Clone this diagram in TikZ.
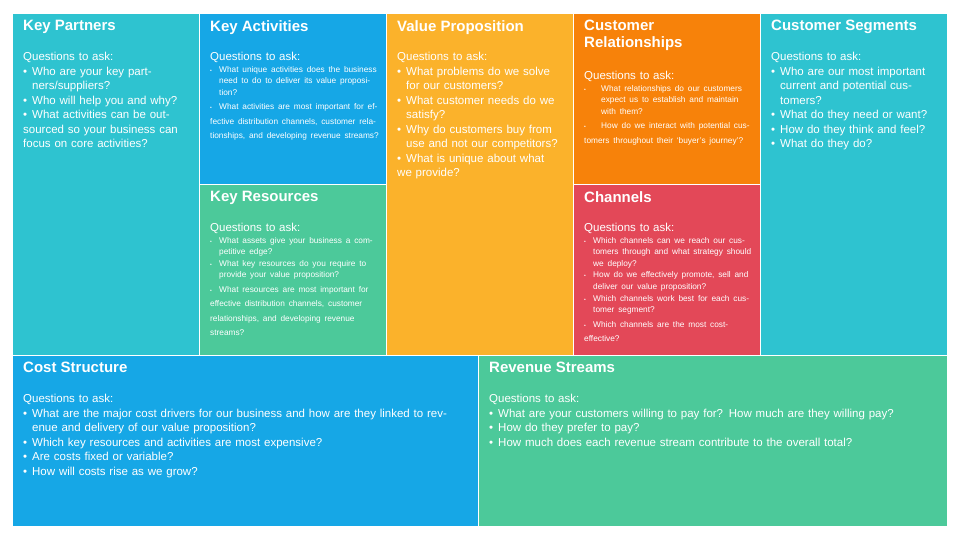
\documentclass[tikz,border=0pt]{standalone}
\usepackage{fontspec}
\setmainfont{Liberation Sans}
\definecolor{cteal}{HTML}{2EC3D0}
\definecolor{cblue}{HTML}{16A7E6}
\definecolor{cgreen}{HTML}{4CC99A}
\definecolor{cyel}{HTML}{FBB22B}
\definecolor{corange}{HTML}{F7820A}
\definecolor{cred}{HTML}{E34858}
\newcommand{\bi}[1]{\par\hangindent=9pt\hangafter=1\noindent\makebox[9pt][l]{•}#1}
\newcommand{\sbi}[1]{\par\hangindent=9pt\hangafter=1\noindent\makebox[9pt][l]{\tiny•}#1}
\newcommand{\smallq}{\fontsize{8.3}{11.6}\selectfont}
\tikzset{
  cell/.style={fill=#1,draw=none},
  ttl/.style={anchor=north west,text=white,font=\fontsize{15}{17}\selectfont\bfseries,align=left,inner sep=0pt},
  body/.style={anchor=north west,text=white,text width=#1,font=\fontsize{11.5}{14.5}\selectfont,align=left,inner sep=0pt},
}
\begin{document}
\begin{tikzpicture}[x=1pt,y=-1pt]
\useasboundingbox (0,0) rectangle (960,540);
\fill[white] (0,0) rectangle (960,540);
\fill[cell=cteal] (13,14) rectangle (199,355);
\fill[cell=cblue] (200,14) rectangle (386,184);
\fill[cell=cgreen] (200,185) rectangle (386,355);
\fill[cell=cyel] (387,14) rectangle (573,355);
\fill[cell=corange] (574,14) rectangle (760,184);
\fill[cell=cred] (574,185) rectangle (760,355);
\fill[cell=cteal] (761,14) rectangle (947,355);
\fill[cell=cblue] (13,356) rectangle (478,526);
\fill[cell=cgreen] (479,356) rectangle (947,526);

\node[ttl] (kpT) at (23,20) {Key Partners};
\node[body=170pt] (kpB) at (23,52) {Questions to ask:
\bi{Who are your key partners/suppliers?}
\bi{Who will help you and why?}
\bi{What activities can be outsourced so your business can focus on core activities?}};

\node[ttl] (kaT) at (210,20) {Key Activities};
\node[body=170pt] (kaB) at (210,52) {Questions to ask:\par{\smallq
\sbi{What unique activities does the business need to do to deliver its value proposition?}
\sbi{What activities are most important for effective distribution channels, customer relationships, and developing revenue streams?}}};

\node[ttl] (krT) at (210,191) {Key Resources};
\node[body=170pt] (krB) at (210,223) {Questions to ask:\par{\smallq
\sbi{What assets give your business a competitive edge?}
\sbi{What key resources do you require to provide your value proposition?}
\sbi{What resources are most important for effective distribution channels, customer relationships, and developing revenue streams?}}};

\node[ttl] (vpT) at (397,20) {Value Proposition};
\node[body=165pt] (vpB) at (397,52) {Questions to ask:
\bi{What problems do we solve for our customers?}
\bi{What customer needs do we satisfy?}
\bi{Why do customers buy from use and not our competitors?}
\bi{What is unique about what we provide?}};

\node[ttl] (crT) at (584,20) {Customer\\Relationships};
\node[body=170pt] (crB) at (584,71) {Questions to ask:\par{\smallq
\par\hangindent=17pt\hangafter=1\noindent\makebox[17pt][l]{\tiny•}What relationships do our customers expect us to establish and maintain with them?
\par\hangindent=17pt\hangafter=1\noindent\makebox[17pt][l]{\tiny•}How do we interact with potential customers throughout their `buyer's journey'?}};

\node[ttl] (chT) at (584,191) {Channels};
\node[body=170pt] (chB) at (584,223) {Questions to ask:\par{\smallq
\sbi{Which channels can we reach our customers through and what strategy should we deploy?}
\sbi{How do we effectively promote, sell and deliver our value proposition?}
\sbi{Which channels work best for each customer segment?}
\sbi{Which channels are the most cost-effective?}}};

\node[ttl] (csT) at (771,20) {Customer Segments};
\node[body=170pt] (csB) at (771,52) {Questions to ask:
\bi{Who are our most important current and potential customers?}
\bi{What do they need or want?}
\bi{How do they think and feel?}
\bi{What do they do?}};

\node[ttl] (coT) at (23,362) {Cost Structure};
\node[body=430pt] (coB) at (23,394) {Questions to ask:
\bi{What are the major cost drivers for our business and how are they linked to revenue and delivery of our value proposition?}
\bi{Which key resources and activities are most expensive?}
\bi{Are costs fixed or variable?}
\bi{How will costs rise as we grow?}};

\node[ttl] (rsT) at (489,362) {Revenue Streams};
\node[body=440pt] (rsB) at (489,394) {Questions to ask:
\bi{What are your customers willing to pay for? How much are they willing pay?}
\bi{How do they prefer to pay?}
\bi{How much does each revenue stream contribute to the overall total?}};
\end{tikzpicture}
\end{document}
